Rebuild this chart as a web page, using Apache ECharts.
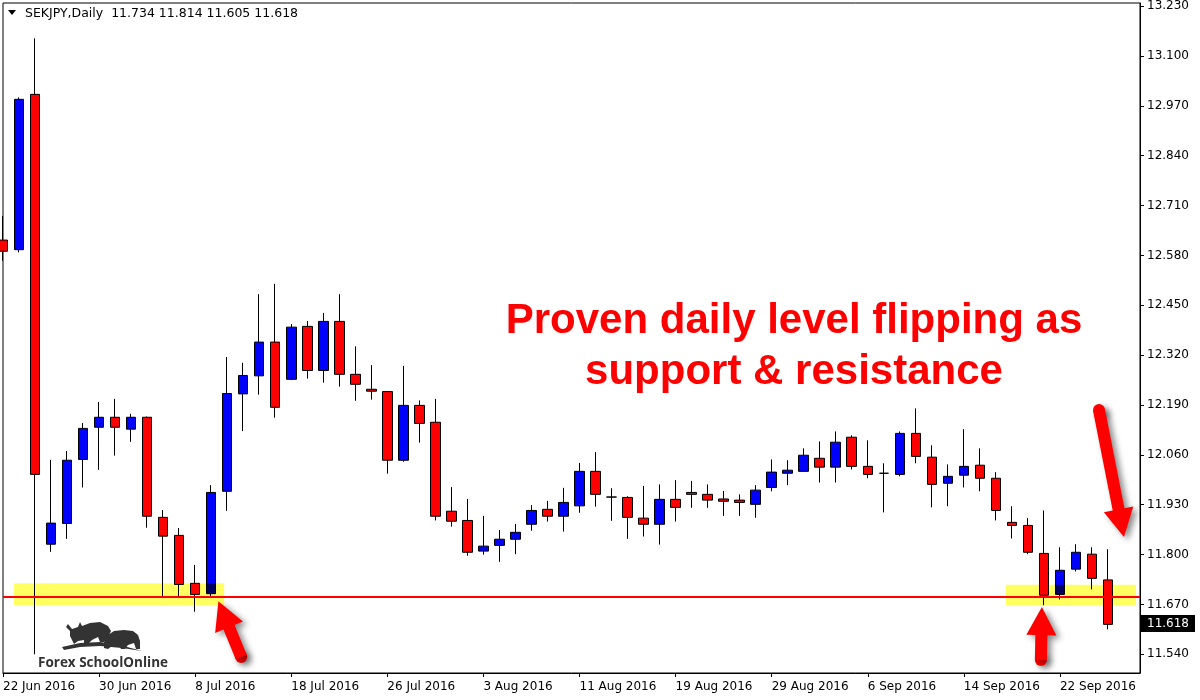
<!DOCTYPE html>
<html><head><meta charset="utf-8">
<script src="https://cdn.jsdelivr.net/npm/echarts@6/dist/echarts.min.js"></script>
<style>html,body{margin:0;padding:0;background:#fff}#c{width:1200px;height:700px}</style>
</head><body><div id="c"></div>
<script>
// ---- data ----
const dates = [
 '22 Jun 2016','23 Jun 2016','24 Jun 2016','27 Jun 2016','28 Jun 2016','29 Jun 2016','30 Jun 2016',
 '1 Jul 2016','4 Jul 2016','5 Jul 2016','6 Jul 2016','7 Jul 2016','8 Jul 2016',
 '11 Jul 2016','12 Jul 2016','13 Jul 2016','14 Jul 2016','15 Jul 2016',
 '18 Jul 2016','19 Jul 2016','20 Jul 2016','21 Jul 2016','22 Jul 2016',
 '25 Jul 2016','26 Jul 2016','27 Jul 2016','28 Jul 2016','29 Jul 2016',
 '1 Aug 2016','2 Aug 2016','3 Aug 2016','4 Aug 2016','5 Aug 2016',
 '8 Aug 2016','9 Aug 2016','10 Aug 2016','11 Aug 2016','12 Aug 2016',
 '15 Aug 2016','16 Aug 2016','17 Aug 2016','18 Aug 2016','19 Aug 2016',
 '22 Aug 2016','23 Aug 2016','24 Aug 2016','25 Aug 2016','26 Aug 2016',
 '29 Aug 2016','30 Aug 2016','31 Aug 2016','1 Sep 2016','2 Sep 2016',
 '5 Sep 2016','6 Sep 2016','7 Sep 2016','8 Sep 2016','9 Sep 2016',
 '12 Sep 2016','13 Sep 2016','14 Sep 2016','15 Sep 2016','16 Sep 2016',
 '19 Sep 2016','20 Sep 2016','21 Sep 2016','22 Sep 2016','23 Sep 2016',
 '26 Sep 2016','27 Sep 2016'
];
const padCategories = ['', ''];
const opens = [12.620,12.595,13.000,11.827,11.881,12.048,12.132,12.158,12.127,12.158,
 11.897,11.850,11.725,11.698,11.965,12.219,12.266,12.354,12.257,12.395,
 12.280,12.408,12.270,12.231,12.225,12.046,12.189,12.145,11.913,11.889,
 11.809,11.824,11.840,11.879,11.918,11.900,11.927,12.017,11.950,11.949,
 11.895,11.879,11.944,11.962,11.957,11.945,11.942,11.931,11.975,12.012,
 12.017,12.051,12.028,12.106,12.030,12.012,12.009,12.116,12.054,11.986,
 12.007,12.033,11.999,11.884,11.876,11.803,11.696,11.762,11.801,11.734];
const closes = [12.591,12.987,12.009,11.882,12.046,12.129,12.158,12.132,12.158,11.900,
 11.848,11.722,11.696,11.962,12.220,12.267,12.354,12.184,12.393,12.280,
 12.408,12.270,12.244,12.226,12.046,12.189,12.142,11.900,11.887,11.806,
 11.822,11.840,11.858,11.915,11.900,11.936,12.017,11.957,11.950,11.897,
 11.879,11.944,11.923,11.957,11.942,11.939,11.936,11.968,12.015,12.020,
 12.059,12.028,12.093,12.030,12.009,12.012,12.116,12.056,11.983,12.004,
 12.030,11.999,11.915,11.876,11.806,11.694,11.759,11.806,11.738,11.618];
const highs = [12.683,12.992,13.146,12.047,12.070,12.143,12.198,12.206,12.167,12.160,
 11.916,11.869,11.773,11.981,12.315,12.300,12.479,12.506,12.401,12.409,
 12.430,12.479,12.343,12.294,12.226,12.292,12.202,12.206,11.976,11.945,
 11.901,11.864,11.880,11.929,11.940,11.974,12.039,12.067,11.973,11.952,
 11.979,11.983,11.994,11.992,11.983,11.966,11.957,11.981,12.048,12.046,
 12.077,12.095,12.121,12.111,12.098,12.038,12.121,12.181,12.085,12.035,
 12.127,12.077,12.015,11.926,11.895,11.915,11.819,11.827,11.819,11.814];
const lows = [12.566,12.588,11.540,11.807,11.841,11.975,12.021,12.058,12.094,11.870,
 11.689,11.690,11.651,11.689,11.914,12.122,12.217,12.157,12.255,12.259,
 12.248,12.238,12.201,12.204,12.011,12.042,12.092,11.889,11.873,11.797,
 11.800,11.781,11.801,11.862,11.886,11.860,11.909,11.925,11.888,11.841,
 11.847,11.826,11.886,11.922,11.922,11.901,11.901,11.896,11.965,11.981,
 12.016,11.988,11.988,12.022,11.999,11.910,12.004,12.038,11.923,11.926,
 11.975,11.965,11.889,11.842,11.801,11.668,11.683,11.756,11.709,11.605];
const priceTicks = [11.540,11.670,11.800,11.930,12.060,12.190,12.320,12.450,12.580,12.710,12.840,12.970,13.100,13.230];
const levelPrice = 11.692;
const lastPrice = 11.618;
const titleText = 'SEKJPY,Daily  11.734 11.814 11.605 11.618';
const noteLines = ['Proven daily level flipping as', 'support & resistance'];
// annotation zones in data space: [fromIndex, toIndex, lowPrice, highPrice]
const zones = [[0.69, 13.81, 11.6685, 11.725], [62.63, 70.75, 11.667, 11.721]];
// arrows in data space: [tailIndex, tailPrice, tipIndex, tipPrice]
const arrows = [[14.875, 11.533, 13.45, 11.678], [64.81, 11.525, 64.875, 11.663], [68.44, 12.177, 70.0, 11.846]];

const FONT = '"DejaVu Sans", Tahoma, sans-serif';
const chart = echarts.init(document.getElementById('c'), null, {renderer: 'canvas'});
const candles = dates.map((d, i) => [opens[i], closes[i], lows[i], highs[i]]);

chart.setOption({
  animation: false,
  backgroundColor: '#ffffff',
  grid: {left: 3, right: 60, top: 3, bottom: 27, show: true, borderColor: '#000', borderWidth: 1, backgroundColor: 'transparent'},
  xAxis: {
    type: 'category', data: dates.concat(padCategories), boundaryGap: false,
    axisLine: {show: true, lineStyle: {color: '#000', width: 1}},
    axisTick: {show: true, interval: 5, length: 4, lineStyle: {color: '#000'}},
    axisLabel: {interval: 5, align: 'left', margin: 8, color: '#000', fontFamily: FONT, fontSize: 12, hideOverlap: false},
    splitLine: {show: false}
  },
  yAxis: {
    type: 'value', position: 'right', min: 11.4912, max: 13.2382,
    axisLine: {show: true, lineStyle: {color: '#000'}},
    axisTick: {show: true, length: 4, customValues: priceTicks, lineStyle: {color: '#000'}},
    axisLabel: {customValues: priceTicks, formatter: v => v.toFixed(3), margin: 7, color: '#000', fontFamily: FONT, fontSize: 12},
    splitLine: {show: false}
  },
  series: [{
    type: 'candlestick', data: candles, barWidth: 10,
    itemStyle: {color: '#0000ff', color0: '#ff0000', borderColor: '#000', borderColor0: '#000', borderWidth: 1},
    markLine: {
      silent: true, symbol: 'none', animation: false,
      data: [
        {yAxis: levelPrice, lineStyle: {color: '#ff0000', width: 2, type: 'solid'}, label: {show: false}},
        {yAxis: lastPrice, lineStyle: {color: 'rgba(0,0,0,0)', width: 0}, label: {show: true, position: 'end', distance: 1,
          formatter: lastPrice.toFixed(3), backgroundColor: '#000', color: '#fff', padding: [3, 6, 2, 6], fontFamily: FONT, fontSize: 12}}
      ]
    }
  }]
});

function px(idx, price) {
  const a = chart.convertToPixel({gridIndex: 0}, [0, price]);
  const b = chart.convertToPixel({gridIndex: 0}, [1, price]);
  return [a[0] + (b[0] - a[0]) * idx, a[1]];
}

const elements = [];
zones.forEach(z => {
  const p0 = px(z[0], z[3]), p1 = px(z[1], z[2]);
  elements.push({type: 'rect', z: 10, shape: {x: p0[0], y: p0[1], width: p1[0] - p0[0], height: p1[1] - p0[1]},
    style: {fill: 'rgba(255,255,0,0.62)', blend: 'multiply'}});
});
arrows.forEach(a => {
  const t = px(a[0], a[1]), h = px(a[2], a[3]);
  const dx = h[0] - t[0], dy = h[1] - t[1], len = Math.hypot(dx, dy);
  const ux = dx / len, uy = dy / len, nx = -uy, ny = ux;
  const L = 28, W = 15, s = 6;
  const bx = h[0] - ux * L, by = h[1] - uy * L;
  const pts = [[t[0] + nx * s, t[1] + ny * s], [bx + nx * s, by + ny * s], [bx + nx * W, by + ny * W], [h[0], h[1]],
    [bx - nx * W, by - ny * W], [bx - nx * s, by - ny * s], [t[0] - nx * s, t[1] - ny * s]];
  const shadow = {shadowBlur: 6, shadowColor: 'rgba(0,0,0,0.45)', shadowOffsetX: 4, shadowOffsetY: 3};
  elements.push({type: 'circle', z: 20, shape: {cx: t[0], cy: t[1], r: s}, style: Object.assign({fill: '#ff0000'}, shadow)});
  elements.push({type: 'polygon', z: 21, shape: {points: pts}, style: Object.assign({fill: '#ff0000'}, shadow)});
});
// title
elements.push({type: 'polygon', z: 30, shape: {points: [[8, 10], [16, 10], [12, 15]]}, style: {fill: '#000'}});
elements.push({type: 'text', z: 30, style: {text: titleText, x: 25, y: 14, font: '12.5px ' + FONT, fill: '#000', align: 'left', verticalAlign: 'middle'}});
// note text
noteLines.forEach((line, i) => {
  elements.push({type: 'text', z: 30, style: {text: line, x: 794, y: 321 + i * 51, font: 'bold 42px "Liberation Sans", Arial, sans-serif',
    fill: '#ff0000', align: 'center', verticalAlign: 'middle'}});
});
// logo
const logoFill = '#333333';
elements.push({type: 'polygon', z: 30, shape: {points: [[62,647],[80,643],[100,642],[120,645],[142,651],[122,648],[100,646],[80,647],[64,650]]}, style: {fill: logoFill}});
elements.push({type: 'polygon', z: 30, shape: {points: [[70,631],[66,627],[68,624],[72,629],[78,627],[80,622],[82,626],[90,623],[100,622],[108,626],[111,631],[108,637],[104,642],[100,642],[98,637],[92,640],[88,644],[84,644],[84,640],[78,641],[74,644],[72,640],[70,636]]}, style: {fill: logoFill}});
elements.push({type: 'polygon', z: 30, shape: {points: [[104,642],[108,635],[114,631],[124,630],[133,631],[138,635],[140,641],[140,649],[136,649],[134,643],[128,645],[125,649],[121,649],[119,645],[112,646],[108,649],[104,648]]}, style: {fill: logoFill}});
elements.push({type: 'text', z: 30, style: {text: 'Forex SchoolOnline', x: 38, y: 663, font: 'bold 13.5px "Open Sans", sans-serif', fill: '#333', align: 'left', verticalAlign: 'middle'}});

chart.setOption({graphic: {elements: elements}});
</script>
</body></html>
